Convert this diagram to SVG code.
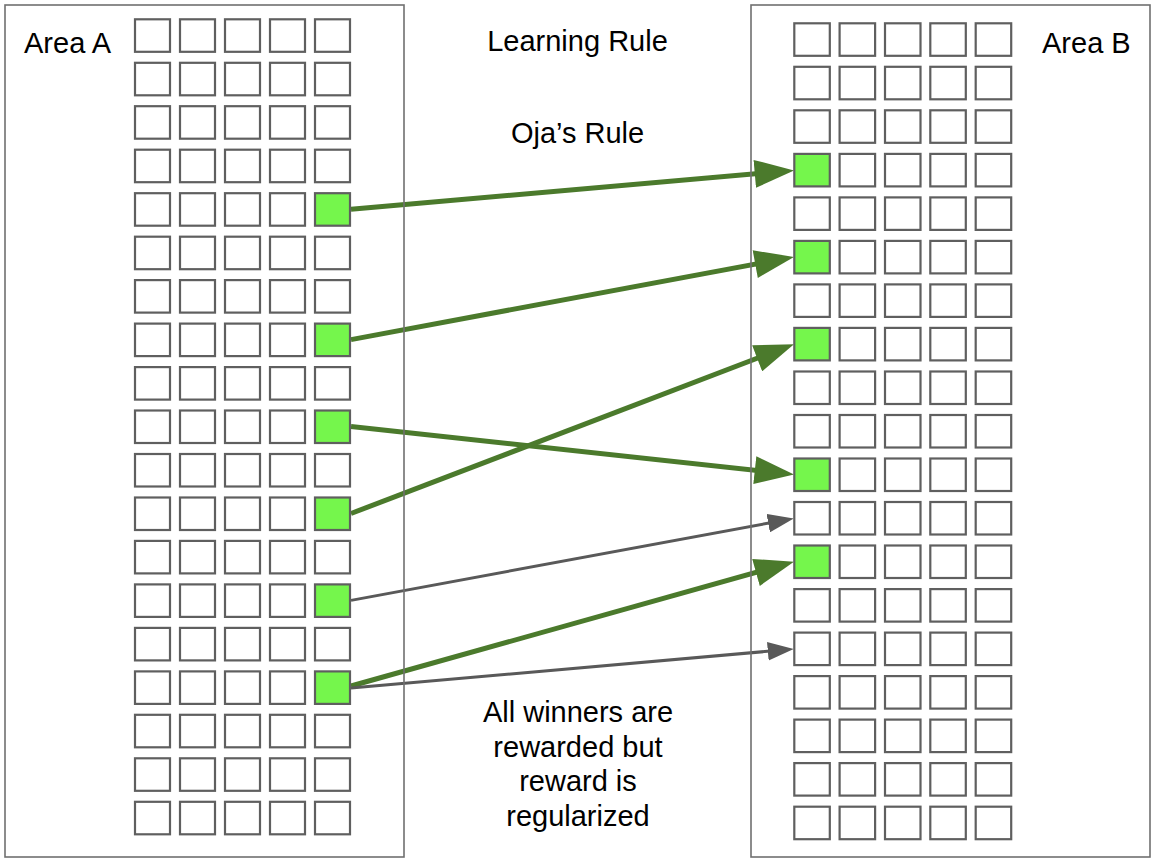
<svg xmlns="http://www.w3.org/2000/svg" xmlns:xlink="http://www.w3.org/1999/xlink" width="1160" height="866" viewBox="0 0 1160 866">
<style>
.area{fill:none;stroke:#707070;stroke-width:1.6}
.c{fill:#ffffff;stroke:#5f5f5f;stroke-width:2.2}
.on{fill:#75f64c}
.t{font-family:"Liberation Sans",Arial,sans-serif;font-size:29px;fill:#000}
.m{text-anchor:middle}
.g{stroke:#4b7a2c;stroke-width:5;fill:none}
.k{stroke:#595959;stroke-width:3;fill:none}
</style>
<defs>
<marker id="hg" markerUnits="userSpaceOnUse" markerWidth="40" markerHeight="28" viewBox="0 0 38 27" refX="18" refY="13.5" orient="auto"><path d="M0,0 L38,13.5 L0,27 z" fill="#4b7a2c"/></marker>
<marker id="hk" markerUnits="userSpaceOnUse" markerWidth="26" markerHeight="19" viewBox="0 0 25 18" refX="13" refY="9" orient="auto"><path d="M0,0 L25,9 L0,18 z" fill="#595959"/></marker>
<rect id="ca" width="35" height="32.5"/>
<rect id="cb" width="35.5" height="32.5"/>
</defs>
<rect width="1160" height="866" fill="#fff"/>
<g id="connectors">
<path class="g" d="M351,209.2 L773.4,172.2" marker-end="url(#hg)"/>
<path class="g" d="M351,339.6 L773.6,260.7" marker-end="url(#hg)"/>
<path class="g" d="M351,426.5 L773.4,472.2" marker-end="url(#hg)"/>
<path class="g" d="M351,513.5 L774.6,351.6" marker-end="url(#hg)"/>
<path class="k" d="M351,600.4 L781.5,520.7" marker-end="url(#hk)"/>
<path class="g" d="M351,686 L774.0,567.4" marker-end="url(#hg)"/>
<path class="k" d="M351,688 L781.3,650.1" marker-end="url(#hk)"/>
</g>
<g id="areaA">
<rect class="area" x="5" y="5" width="399" height="852"/>
<text class="t" x="24" y="52.5">Area A</text>
<g id="gridA">
<use href="#ca" class="c" x="135" y="19.3"/><use href="#ca" class="c" x="180" y="19.3"/><use href="#ca" class="c" x="225" y="19.3"/><use href="#ca" class="c" x="270" y="19.3"/><use href="#ca" class="c" x="315" y="19.3"/>
<use href="#ca" class="c" x="135" y="62.8"/><use href="#ca" class="c" x="180" y="62.8"/><use href="#ca" class="c" x="225" y="62.8"/><use href="#ca" class="c" x="270" y="62.8"/><use href="#ca" class="c" x="315" y="62.8"/>
<use href="#ca" class="c" x="135" y="106.2"/><use href="#ca" class="c" x="180" y="106.2"/><use href="#ca" class="c" x="225" y="106.2"/><use href="#ca" class="c" x="270" y="106.2"/><use href="#ca" class="c" x="315" y="106.2"/>
<use href="#ca" class="c" x="135" y="149.7"/><use href="#ca" class="c" x="180" y="149.7"/><use href="#ca" class="c" x="225" y="149.7"/><use href="#ca" class="c" x="270" y="149.7"/><use href="#ca" class="c" x="315" y="149.7"/>
<use href="#ca" class="c" x="135" y="193.2"/><use href="#ca" class="c" x="180" y="193.2"/><use href="#ca" class="c" x="225" y="193.2"/><use href="#ca" class="c" x="270" y="193.2"/><use id="a4" href="#ca" class="c on" x="315" y="193.2"/>
<use href="#ca" class="c" x="135" y="236.7"/><use href="#ca" class="c" x="180" y="236.7"/><use href="#ca" class="c" x="225" y="236.7"/><use href="#ca" class="c" x="270" y="236.7"/><use href="#ca" class="c" x="315" y="236.7"/>
<use href="#ca" class="c" x="135" y="280.1"/><use href="#ca" class="c" x="180" y="280.1"/><use href="#ca" class="c" x="225" y="280.1"/><use href="#ca" class="c" x="270" y="280.1"/><use href="#ca" class="c" x="315" y="280.1"/>
<use href="#ca" class="c" x="135" y="323.6"/><use href="#ca" class="c" x="180" y="323.6"/><use href="#ca" class="c" x="225" y="323.6"/><use href="#ca" class="c" x="270" y="323.6"/><use id="a7" href="#ca" class="c on" x="315" y="323.6"/>
<use href="#ca" class="c" x="135" y="367.1"/><use href="#ca" class="c" x="180" y="367.1"/><use href="#ca" class="c" x="225" y="367.1"/><use href="#ca" class="c" x="270" y="367.1"/><use href="#ca" class="c" x="315" y="367.1"/>
<use href="#ca" class="c" x="135" y="410.5"/><use href="#ca" class="c" x="180" y="410.5"/><use href="#ca" class="c" x="225" y="410.5"/><use href="#ca" class="c" x="270" y="410.5"/><use id="a9" href="#ca" class="c on" x="315" y="410.5"/>
<use href="#ca" class="c" x="135" y="454"/><use href="#ca" class="c" x="180" y="454"/><use href="#ca" class="c" x="225" y="454"/><use href="#ca" class="c" x="270" y="454"/><use href="#ca" class="c" x="315" y="454"/>
<use href="#ca" class="c" x="135" y="497.5"/><use href="#ca" class="c" x="180" y="497.5"/><use href="#ca" class="c" x="225" y="497.5"/><use href="#ca" class="c" x="270" y="497.5"/><use id="a11" href="#ca" class="c on" x="315" y="497.5"/>
<use href="#ca" class="c" x="135" y="540.9"/><use href="#ca" class="c" x="180" y="540.9"/><use href="#ca" class="c" x="225" y="540.9"/><use href="#ca" class="c" x="270" y="540.9"/><use href="#ca" class="c" x="315" y="540.9"/>
<use href="#ca" class="c" x="135" y="584.4"/><use href="#ca" class="c" x="180" y="584.4"/><use href="#ca" class="c" x="225" y="584.4"/><use href="#ca" class="c" x="270" y="584.4"/><use id="a13" href="#ca" class="c on" x="315" y="584.4"/>
<use href="#ca" class="c" x="135" y="627.9"/><use href="#ca" class="c" x="180" y="627.9"/><use href="#ca" class="c" x="225" y="627.9"/><use href="#ca" class="c" x="270" y="627.9"/><use href="#ca" class="c" x="315" y="627.9"/>
<use href="#ca" class="c" x="135" y="671.4"/><use href="#ca" class="c" x="180" y="671.4"/><use href="#ca" class="c" x="225" y="671.4"/><use href="#ca" class="c" x="270" y="671.4"/><use id="a15" href="#ca" class="c on" x="315" y="671.4"/>
<use href="#ca" class="c" x="135" y="714.8"/><use href="#ca" class="c" x="180" y="714.8"/><use href="#ca" class="c" x="225" y="714.8"/><use href="#ca" class="c" x="270" y="714.8"/><use href="#ca" class="c" x="315" y="714.8"/>
<use href="#ca" class="c" x="135" y="758.3"/><use href="#ca" class="c" x="180" y="758.3"/><use href="#ca" class="c" x="225" y="758.3"/><use href="#ca" class="c" x="270" y="758.3"/><use href="#ca" class="c" x="315" y="758.3"/>
<use href="#ca" class="c" x="135" y="801.8"/><use href="#ca" class="c" x="180" y="801.8"/><use href="#ca" class="c" x="225" y="801.8"/><use href="#ca" class="c" x="270" y="801.8"/><use href="#ca" class="c" x="315" y="801.8"/>
</g>
</g>
<g id="areaB">
<rect class="area" x="751" y="5" width="399" height="852"/>
<text class="t" x="1042" y="52.5">Area B</text>
<g id="gridB">
<use href="#cb" class="c" x="794.3" y="23.3"/><use href="#cb" class="c" x="839.6" y="23.3"/><use href="#cb" class="c" x="885" y="23.3"/><use href="#cb" class="c" x="930.3" y="23.3"/><use href="#cb" class="c" x="975.7" y="23.3"/>
<use href="#cb" class="c" x="794.3" y="66.8"/><use href="#cb" class="c" x="839.6" y="66.8"/><use href="#cb" class="c" x="885" y="66.8"/><use href="#cb" class="c" x="930.3" y="66.8"/><use href="#cb" class="c" x="975.7" y="66.8"/>
<use href="#cb" class="c" x="794.3" y="110.3"/><use href="#cb" class="c" x="839.6" y="110.3"/><use href="#cb" class="c" x="885" y="110.3"/><use href="#cb" class="c" x="930.3" y="110.3"/><use href="#cb" class="c" x="975.7" y="110.3"/>
<use id="b3" href="#cb" class="c on" x="794.3" y="153.9"/><use href="#cb" class="c" x="839.6" y="153.9"/><use href="#cb" class="c" x="885" y="153.9"/><use href="#cb" class="c" x="930.3" y="153.9"/><use href="#cb" class="c" x="975.7" y="153.9"/>
<use href="#cb" class="c" x="794.3" y="197.4"/><use href="#cb" class="c" x="839.6" y="197.4"/><use href="#cb" class="c" x="885" y="197.4"/><use href="#cb" class="c" x="930.3" y="197.4"/><use href="#cb" class="c" x="975.7" y="197.4"/>
<use id="b5" href="#cb" class="c on" x="794.3" y="240.9"/><use href="#cb" class="c" x="839.6" y="240.9"/><use href="#cb" class="c" x="885" y="240.9"/><use href="#cb" class="c" x="930.3" y="240.9"/><use href="#cb" class="c" x="975.7" y="240.9"/>
<use href="#cb" class="c" x="794.3" y="284.4"/><use href="#cb" class="c" x="839.6" y="284.4"/><use href="#cb" class="c" x="885" y="284.4"/><use href="#cb" class="c" x="930.3" y="284.4"/><use href="#cb" class="c" x="975.7" y="284.4"/>
<use id="b7" href="#cb" class="c on" x="794.3" y="327.9"/><use href="#cb" class="c" x="839.6" y="327.9"/><use href="#cb" class="c" x="885" y="327.9"/><use href="#cb" class="c" x="930.3" y="327.9"/><use href="#cb" class="c" x="975.7" y="327.9"/>
<use href="#cb" class="c" x="794.3" y="371.5"/><use href="#cb" class="c" x="839.6" y="371.5"/><use href="#cb" class="c" x="885" y="371.5"/><use href="#cb" class="c" x="930.3" y="371.5"/><use href="#cb" class="c" x="975.7" y="371.5"/>
<use href="#cb" class="c" x="794.3" y="415"/><use href="#cb" class="c" x="839.6" y="415"/><use href="#cb" class="c" x="885" y="415"/><use href="#cb" class="c" x="930.3" y="415"/><use href="#cb" class="c" x="975.7" y="415"/>
<use id="b10" href="#cb" class="c on" x="794.3" y="458.5"/><use href="#cb" class="c" x="839.6" y="458.5"/><use href="#cb" class="c" x="885" y="458.5"/><use href="#cb" class="c" x="930.3" y="458.5"/><use href="#cb" class="c" x="975.7" y="458.5"/>
<use id="b11" href="#cb" class="c" x="794.3" y="502"/><use href="#cb" class="c" x="839.6" y="502"/><use href="#cb" class="c" x="885" y="502"/><use href="#cb" class="c" x="930.3" y="502"/><use href="#cb" class="c" x="975.7" y="502"/>
<use id="b12" href="#cb" class="c on" x="794.3" y="545.5"/><use href="#cb" class="c" x="839.6" y="545.5"/><use href="#cb" class="c" x="885" y="545.5"/><use href="#cb" class="c" x="930.3" y="545.5"/><use href="#cb" class="c" x="975.7" y="545.5"/>
<use href="#cb" class="c" x="794.3" y="589.1"/><use href="#cb" class="c" x="839.6" y="589.1"/><use href="#cb" class="c" x="885" y="589.1"/><use href="#cb" class="c" x="930.3" y="589.1"/><use href="#cb" class="c" x="975.7" y="589.1"/>
<use id="b14" href="#cb" class="c" x="794.3" y="632.6"/><use href="#cb" class="c" x="839.6" y="632.6"/><use href="#cb" class="c" x="885" y="632.6"/><use href="#cb" class="c" x="930.3" y="632.6"/><use href="#cb" class="c" x="975.7" y="632.6"/>
<use href="#cb" class="c" x="794.3" y="676.1"/><use href="#cb" class="c" x="839.6" y="676.1"/><use href="#cb" class="c" x="885" y="676.1"/><use href="#cb" class="c" x="930.3" y="676.1"/><use href="#cb" class="c" x="975.7" y="676.1"/>
<use href="#cb" class="c" x="794.3" y="719.6"/><use href="#cb" class="c" x="839.6" y="719.6"/><use href="#cb" class="c" x="885" y="719.6"/><use href="#cb" class="c" x="930.3" y="719.6"/><use href="#cb" class="c" x="975.7" y="719.6"/>
<use href="#cb" class="c" x="794.3" y="763.1"/><use href="#cb" class="c" x="839.6" y="763.1"/><use href="#cb" class="c" x="885" y="763.1"/><use href="#cb" class="c" x="930.3" y="763.1"/><use href="#cb" class="c" x="975.7" y="763.1"/>
<use href="#cb" class="c" x="794.3" y="806.7"/><use href="#cb" class="c" x="839.6" y="806.7"/><use href="#cb" class="c" x="885" y="806.7"/><use href="#cb" class="c" x="930.3" y="806.7"/><use href="#cb" class="c" x="975.7" y="806.7"/>
</g>
</g>
<g id="label-learning-rule"><text class="t m" x="577.5" y="50.5">Learning Rule</text></g>
<g id="label-oja"><text class="t m" x="577.5" y="142.5">Oja’s Rule</text></g>
<g id="label-note">
<text class="t m" x="578" y="722">All winners are</text>
<text class="t m" x="578" y="756.5">rewarded but</text>
<text class="t m" x="578" y="791">reward is</text>
<text class="t m" x="578" y="825.5">regularized</text>
</g>
</svg>
